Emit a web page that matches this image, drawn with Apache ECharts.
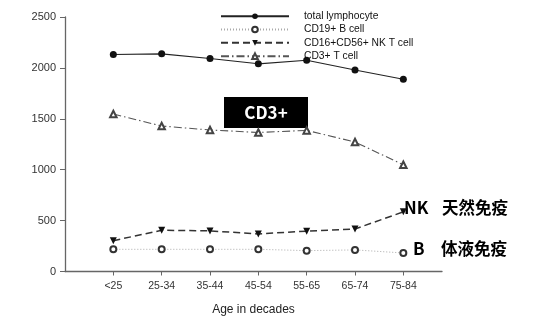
<!DOCTYPE html>
<html>
<head>
<meta charset="utf-8">
<script src="https://cdn.jsdelivr.net/npm/echarts@6/dist/echarts.min.js"></script>
<style>
  html, body { margin: 0; padding: 0; background: #fff; }
  #chart { width: 535px; height: 325px; }
</style>
</head>
<body>
<div id="chart"></div>
<script>
// Age groups along the x axis
const ageGroups = ['<25', '25-34', '35-44', '45-54', '55-65', '65-74', '75-84'];

// Cell counts (cells/ul) per age group
const totalLymphocyte = [2131, 2138, 2092, 2040, 2075, 1980, 1888];
const cd19B = [218, 218, 218, 218, 205, 212, 182];
const nkT = [303, 405, 399, 369, 396, 418, 586];
const cd3T = [1547, 1429, 1390, 1366, 1386, 1272, 1048];

// Y axis ticks
const yTicks = [0, 500, 1000, 1500, 2000, 2500];

const seriesNames = ['total lymphocyte', 'CD19+ B cell', 'CD16+CD56+ NK T cell', 'CD3+ T cell'];

const pos = ageGroups.map((_, i) => i + 1);
const pairs = vals => vals.map((v, i) => [pos[i], v]);

const font = '"Liberation Sans", Arial, sans-serif';
const cjk = '"Noto Sans CJK SC", sans-serif';

const chart = echarts.init(document.getElementById('chart'), null, { renderer: 'canvas' });

chart.setOption({
  animation: false,
  backgroundColor: '#fff',
  grid: { left: 65, top: 17, right: 93, bottom: 53.5, containLabel: false, outerBoundsMode: 'none' },
  legend: {
    orient: 'vertical',
    left: 220,
    top: 10.5,
    padding: 0,
    itemWidth: 68,
    itemHeight: 7,
    itemGap: 1.8,
    data: seriesNames,
    textStyle: { fontFamily: font, fontSize: 10.3, lineHeight: 11.5, color: '#111', padding: [0, 0, 0, 10] }
  },
  xAxis: {
    type: 'value',
    min: 0,
    max: 7.8,
    interval: 1,
    name: 'Age in decades',
    nameLocation: 'middle',
    nameGap: 32,
    nameTextStyle: { fontFamily: font, fontSize: 12, color: '#222' },
    splitLine: { show: false },
    axisLine: { lineStyle: { color: '#666', width: 1.3 } },
    axisTick: { show: true, length: 4, lineStyle: { color: '#666' }, customValues: pos },
    axisLabel: {
      customValues: pos,
      margin: 9,
      fontFamily: font,
      fontSize: 10.5,
      color: '#333',
      formatter: v => ageGroups[Math.round(v) - 1] || ''
    }
  },
  yAxis: {
    type: 'value',
    min: yTicks[0],
    max: yTicks[yTicks.length - 1],
    interval: 500,
    name: 'cell counts (cells/ul)',
    nameLocation: 'middle',
    nameGap: 50,
    nameTextStyle: { fontFamily: font, fontSize: 11.5, color: '#222', padding: [0, 0, 18, 0] },
    splitLine: { show: false },
    axisLine: { show: true, lineStyle: { color: '#666', width: 1.3 } },
    axisTick: { show: true, length: 5, lineStyle: { color: '#666' } },
    axisLabel: { margin: 9, fontFamily: font, fontSize: 11, color: '#333', formatter: v => String(v) }
  },
  series: [
    {
      name: seriesNames[0],
      type: 'line',
      data: pairs(totalLymphocyte),
      symbol: 'circle',
      symbolSize: 7,
      itemStyle: { color: '#111' },
      lineStyle: { color: '#222', width: 1.1, type: 'solid' }
    },
    {
      name: seriesNames[1],
      type: 'line',
      data: pairs(cd19B),
      symbol: 'emptyCircle',
      symbolSize: 6,
      itemStyle: { color: '#333', borderColor: '#333', borderWidth: 1 },
      lineStyle: { color: '#aaa', width: 1, type: [1, 2] }
    },
    {
      name: seriesNames[2],
      type: 'line',
      data: pairs(nkT),
      symbol: 'triangle',
      symbolRotate: 180,
      symbolSize: 7,
      itemStyle: { color: '#111' },
      lineStyle: { color: '#333', width: 1.5, type: [7, 4] }
    },
    {
      name: seriesNames[3],
      type: 'line',
      data: pairs(cd3T),
      symbol: 'emptyTriangle',
      symbolSize: 6.5,
      itemStyle: { color: '#444', borderColor: '#444', borderWidth: 0.9 },
      lineStyle: { color: '#555', width: 1.1, type: [8, 3, 1.5, 3] }
    }
  ],
  graphic: [
    {
      type: 'group',
      left: 224,
      top: 97,
      children: [
        { type: 'rect', shape: { x: 0, y: 0, width: 84, height: 31 }, style: { fill: '#000' } },
        {
          type: 'text', x: 42, y: 16,
          style: { text: 'CD3+', fill: '#fff', font: 'bold 17px ' + cjk, align: 'center', verticalAlign: 'middle' }
        }
      ]
    },
    {
      type: 'text', left: 404, top: 199,
      style: { text: 'NK', fill: '#000', font: 'bold 17px ' + cjk }
    },
    {
      type: 'text', left: 442, top: 199,
      style: { text: '天然免疫', fill: '#000', font: 'bold 16.5px ' + cjk }
    },
    {
      type: 'text', left: 413, top: 240,
      style: { text: 'B', fill: '#000', font: 'bold 17px ' + cjk }
    },
    {
      type: 'text', left: 441, top: 240,
      style: { text: '体液免疫', fill: '#000', font: 'bold 16.5px ' + cjk }
    }
  ]
});
</script>
</body>
</html>
